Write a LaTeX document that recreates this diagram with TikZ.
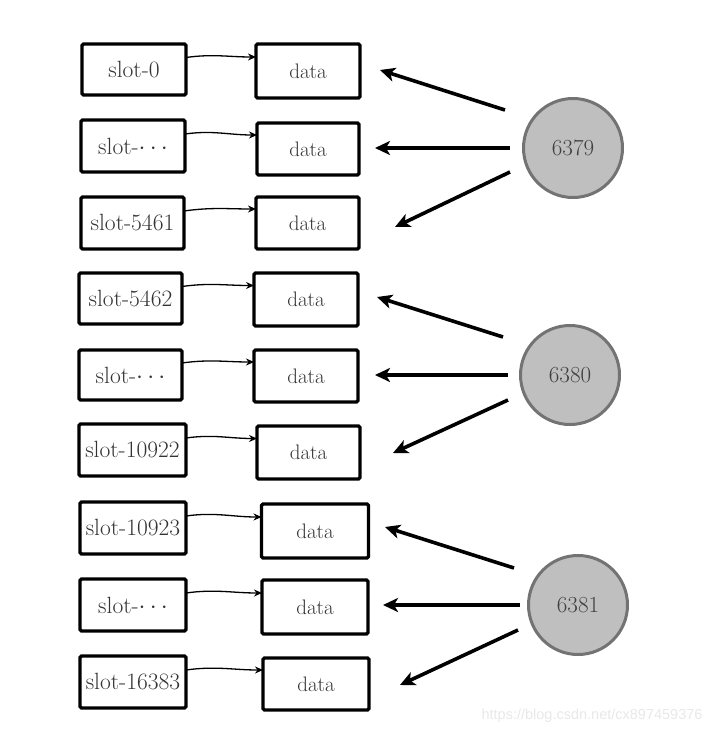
\documentclass[tikz,border=0pt]{standalone}
\usepackage{fontspec}
\newfontfamily\wmfont{Liberation Sans}
\usetikzlibrary{arrows.meta}
\begin{document}
\begin{tikzpicture}[x=1pt,y=-1pt,
  box/.style={draw=black,line width=3.4pt,rounded corners=1.5pt,inner sep=0pt,outer sep=0pt,
    font=\fontsize{21}{24}\selectfont,text=black!80},
  sbox/.style={box,font=\fontsize{23.5}{26}\selectfont},
  srv/.style={circle,draw=black!55,line width=3pt,fill=black!25,minimum size=99pt,inner sep=0pt,
    font=\fontsize{23}{26}\selectfont,text=black!75},
  small/.style={line width=1.3pt,-{Stealth[length=8pt,width=7pt]}},
  big/.style={line width=3.6pt,-{Stealth[length=15pt,width=14pt,inset=4pt]}}]
\useasboundingbox (0,0) rectangle (714,734);
% slot boxes
\node[sbox,minimum width=104pt,minimum height=51pt] (s1) at (134,69.5) {slot-0};
\node[sbox,minimum width=104pt,minimum height=52pt] (s2) at (133,146) {slot-$\cdots$};
\node[sbox,minimum width=103pt,minimum height=52pt] (s3) at (132.5,223) {slot-5461};
\node[sbox,minimum width=103pt,minimum height=51pt] (s4) at (130.5,298.5) {slot-5462};
\node[sbox,minimum width=103pt,minimum height=50pt] (s5) at (130.5,375) {slot-$\cdots$};
\node[sbox,minimum width=107pt,minimum height=52pt] (s6) at (132.5,450) {slot-10922};
\node[sbox,minimum width=106pt,minimum height=52pt] (s7) at (133,528) {slot-10923};
\node[sbox,minimum width=106pt,minimum height=52pt] (s8) at (133,605) {slot-$\cdots$};
\node[sbox,minimum width=106pt,minimum height=52pt] (s9) at (133,682) {slot-16383};
% data boxes
\node[box,minimum width=104pt,minimum height=54pt] (d1) at (308,71) {data};
\node[box,minimum width=102pt,minimum height=52pt] (d2) at (308,149) {data};
\node[box,minimum width=103pt,minimum height=52pt] (d3) at (307.5,223) {data};
\node[box,minimum width=104pt,minimum height=53pt] (d4) at (306,299.5) {data};
\node[box,minimum width=104pt,minimum height=52pt] (d5) at (306,376) {data};
\node[box,minimum width=103pt,minimum height=53pt] (d6) at (308.5,452.5) {data};
\node[box,minimum width=107pt,minimum height=54pt] (d7) at (315,531) {data};
\node[box,minimum width=106pt,minimum height=54pt] (d8) at (315,607) {data};
\node[box,minimum width=106pt,minimum height=52pt] (d9) at (316,684) {data};
% slot -> data arrows
\foreach \i in {1,...,9}{
  \draw[small] ([yshift=12pt]s\i.east) to[out=8,in=180] ([yshift=14pt]d\i.west);
}
% servers
\node[srv] (c1) at (573,148) {6379};
\node[srv] (c2) at (570,375) {6380};
\node[srv] (c3) at (578,605) {6381};
% arrow ends
\coordinate (a1t) at (505,110); \coordinate (a1h) at (380,70);
\coordinate (a2t) at (510,148); \coordinate (a2h) at (375,148);
\coordinate (a3t) at (510,172); \coordinate (a3h) at (395,227);
\coordinate (b1t) at (503,337); \coordinate (b1h) at (377,297);
\coordinate (b2t) at (508,375); \coordinate (b2h) at (375,375);
\coordinate (b3t) at (508,400); \coordinate (b3h) at (393,453);
\coordinate (c1t) at (514,568); \coordinate (c1h) at (385,527);
\coordinate (c2t) at (520,605); \coordinate (c2h) at (383,605);
\coordinate (c3t) at (518,630); \coordinate (c3h) at (400,685);
\foreach \p in {a1,a2,a3,b1,b2,b3,c1,c2,c3}{
  \draw[big] (\p t) -- (\p h);
}
% watermark
\node[anchor=east,text=black!9,font=\wmfont\fontsize{14.5}{16}\selectfont] (wm) at (706,716) {https://blog.csdn.net/cx897459376};
\end{tikzpicture}
\end{document}
